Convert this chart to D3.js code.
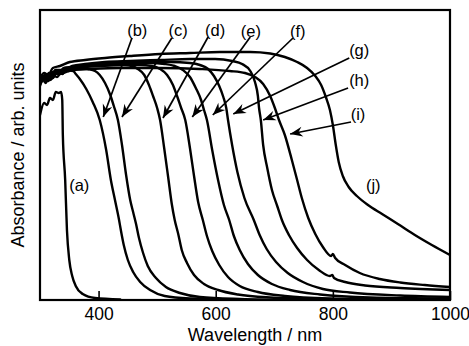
<!DOCTYPE html>
<html><head><meta charset="utf-8">
<script src="https://cdn.jsdelivr.net/npm/d3@7"></script>
<style>body{margin:0;background:#fff}svg{display:block}</style>
</head><body>
<svg id="chart" width="469" height="346"></svg>
<script>
// ---- data (wavelength nm, absorbance arb. units) ----
const xTicks = [400, 600, 800, 1000];
const xTickLabels = ["400", "600", "800", "1000"];
const xTitle = "Wavelength / nm";
const yTitle = "Absorbance / arb. units";
const seriesLabels = ["(a)","(b)","(c)","(d)","(e)","(f)","(g)","(h)","(i)","(j)"];

const curveA = [[300,1.85],[307,1.97],[312,1.95],[317,2.02],[322,2.00],[327,2.08],[332,2.07],[336,2.08],[338,2.00],[339,1.65],[343,1.20],[346,0.70],[350,0.40],[355,0.24],[361,0.14],[373,0.06],[394,0.02],[437,0.005]];
const curveB = [[300,2.18],[305,2.24],[310,2.21],[315,2.27],[320,2.25],[327,2.30],[334,2.28],[341,2.32],[348,2.29],[355,2.30],[361,2.26],[368,2.21],[379,2.11],[390,1.98],[402,1.80],[413,1.50],[421,1.20],[428,1.00],[435,0.80],[438,0.70],[443,0.55],[450,0.40],[459,0.28],[471,0.18],[488,0.10],[513,0.04],[556,0.015],[624,0.005]];
const curveC = [[300,2.14],[305,2.20],[310,2.17],[315,2.24],[322,2.22],[329,2.28],[338,2.26],[346,2.31],[355,2.29],[368,2.32],[382,2.31],[394,2.29],[402,2.25],[411,2.17],[420,2.05],[426,1.94],[433,1.80],[440,1.55],[447,1.25],[454,1.00],[459,0.88],[464,0.76],[469,0.62],[476,0.47],[484,0.34],[498,0.22],[515,0.13],[539,0.07],[573,0.03],[641,0.01],[744,0.00]];
const curveD = [[300,2.20],[307,2.23],[314,2.26],[320,2.24],[327,2.29],[336,2.28],[344,2.32],[355,2.31],[368,2.34],[394,2.34],[420,2.35],[445,2.35],[457,2.34],[467,2.31],[478,2.25],[486,2.15],[493,2.04],[500,1.92],[505,1.80],[512,1.52],[519,1.22],[525,0.96],[530,0.80],[536,0.66],[542,0.50],[551,0.37],[563,0.25],[580,0.16],[604,0.10],[638,0.055],[693,0.025],[778,0.01],[915,0.003]];
const curveE = [[300,2.16],[307,2.21],[314,2.19],[320,2.25],[329,2.23],[338,2.29],[348,2.30],[360,2.32],[377,2.33],[402,2.34],[437,2.35],[471,2.35],[491,2.34],[505,2.31],[517,2.25],[527,2.15],[534,2.04],[541,1.92],[548,1.80],[556,1.52],[563,1.24],[570,0.98],[578,0.80],[585,0.64],[594,0.49],[606,0.35],[621,0.23],[641,0.14],[672,0.08],[718,0.04],[795,0.015],[915,0.005]];
const curveF = [[300,2.20],[307,2.24],[314,2.22],[322,2.28],[331,2.27],[341,2.32],[355,2.33],[377,2.35],[402,2.36],[445,2.37],[488,2.37],[513,2.36],[530,2.34],[544,2.30],[556,2.23],[566,2.12],[575,2.00],[580,1.90],[585,1.80],[594,1.50],[604,1.20],[614,0.95],[623,0.80],[631,0.64],[641,0.50],[655,0.36],[672,0.25],[696,0.16],[727,0.10],[778,0.055],[863,0.025],[1000,0.015]];
const curveG = [[300,2.17],[307,2.22],[315,2.20],[324,2.27],[334,2.26],[344,2.31],[360,2.33],[385,2.35],[420,2.37],[471,2.38],[522,2.38],[556,2.37],[573,2.35],[587,2.31],[597,2.24],[606,2.14],[613,2.03],[618,1.92],[621,1.80],[628,1.55],[637,1.28],[649,1.02],[665,0.80],[675,0.65],[687,0.51],[703,0.38],[723,0.27],[749,0.18],[783,0.11],[829,0.075],[915,0.045],[1000,0.03]];
const curveH = [[300,2.20],[309,2.25],[317,2.23],[327,2.30],[339,2.30],[355,2.34],[377,2.36],[411,2.38],[454,2.39],[505,2.40],[556,2.41],[599,2.41],[628,2.39],[645,2.36],[659,2.29],[667,2.18],[672,2.04],[674,1.92],[677,1.80],[681,1.55],[688,1.32],[696,1.10],[705,0.94],[713,0.80],[725,0.65],[739,0.52],[756,0.40],[776,0.30],[795,0.24],[799,0.25],[802,0.22],[821,0.18],[855,0.145],[915,0.12],[1000,0.10]];
const curveI = [[300,2.16],[309,2.22],[317,2.20],[327,2.26],[339,2.27],[355,2.30],[385,2.31],[437,2.32],[505,2.32],[573,2.31],[624,2.29],[650,2.27],[667,2.23],[681,2.16],[693,2.04],[701,1.92],[708,1.80],[718,1.65],[730,1.40],[739,1.20],[747,1.02],[758,0.82],[770,0.66],[783,0.53],[797,0.44],[800,0.46],[804,0.42],[821,0.35],[846,0.27],[880,0.21],[915,0.175],[957,0.15],[1000,0.13]];
const curveJ = [[300,2.22],[307,2.27],[314,2.25],[322,2.32],[334,2.34],[351,2.38],[377,2.40],[411,2.42],[454,2.44],[505,2.46],[556,2.47],[607,2.48],[659,2.48],[693,2.465],[718,2.43],[739,2.38],[756,2.32],[770,2.24],[780,2.15],[788,2.03],[795,1.90],[800,1.75],[805,1.55],[810,1.38],[817,1.24],[827,1.13],[841,1.04],[860,0.95],[884,0.86],[911,0.76],[940,0.65],[969,0.55],[1000,0.45]];
const curves = [curveA, curveB, curveC, curveD, curveE, curveF, curveG, curveH, curveI, curveJ];

// label anchor positions (wavelength, absorbance)
const labelX = [367, 466, 536, 599, 660, 740, 845, 845, 843, 869];
const labelY = [1.15, 2.70, 2.70, 2.70, 2.69, 2.69, 2.50, 2.20, 1.86, 1.15];
// arrows: from label to curve (null for none)
const arrowFrom = [null,[457,2.62],[525,2.62],[587,2.63],[659,2.63],[732,2.62],[828,2.42],[826,2.12],[831,1.78],null];
const arrowTo   = [null,[408,1.83],[440,1.83],[510,1.82],[560,1.83],[595,1.85],[630,1.86],[681,1.80],[727,1.66],null];

// ---- drawing ----
const svg = d3.select("#chart");
const W = 469, H = 346;
const mLeft = 40, mRight = 450, mTop = 10, mBottom = 300;
const FONT = "'Liberation Sans', Arial, Helvetica, sans-serif";

const x = d3.scaleLinear().domain([300, 1000]).range([mLeft, mRight]);
const y = d3.scaleLinear().domain([0, 2.9]).range([mBottom, mTop]);

svg.append("rect").attr("width", W).attr("height", H).attr("fill", "#fff");

const defs = svg.append("defs");
defs.append("clipPath").attr("id", "clip")
  .append("rect").attr("x", mLeft).attr("y", mTop).attr("width", mRight - mLeft).attr("height", mBottom - mTop);

const marker = defs.append("marker")
  .attr("id", "ah").attr("viewBox", "-13 -7 14 14")
  .attr("refX", 0).attr("refY", 0)
  .attr("markerWidth", 14).attr("markerHeight", 14)
  .attr("markerUnits", "userSpaceOnUse").attr("orient", "auto");
marker.append("path").attr("d", "M0,0 L-12.5,-5 L-8.5,0 L-12.5,5 Z").attr("fill", "#000");

const line = d3.line().x(d => x(d[0])).y(d => y(d[1])).curve(d3.curveMonotoneX);

svg.append("g").attr("clip-path", "url(#clip)")
  .selectAll("path").data(curves).join("path")
  .attr("d", line).attr("fill", "none").attr("stroke", "#000")
  .attr("stroke-width", 2.4).attr("stroke-linejoin", "round").attr("stroke-linecap", "round");

// arrows
const arrowData = arrowFrom.map((f, i) => f ? {f, t: arrowTo[i]} : null).filter(d => d);
svg.append("g").selectAll("line").data(arrowData).join("line")
  .attr("x1", d => x(d.f[0])).attr("y1", d => y(d.f[1]))
  .attr("x2", d => x(d.t[0])).attr("y2", d => y(d.t[1]))
  .attr("stroke", "#000").attr("stroke-width", 1.7)
  .attr("marker-end", "url(#ah)");

// labels
svg.append("g").selectAll("text").data(seriesLabels).join("text")
  .attr("x", (d, i) => x(labelX[i])).attr("y", (d, i) => y(labelY[i]))
  .attr("dy", "0.35em").attr("text-anchor", "middle")
  .attr("font-family", FONT).attr("font-size", 16.5).attr("fill", "#000")
  .text(d => d);

// frame
svg.append("rect").attr("x", mLeft).attr("y", mTop).attr("width", mRight - mLeft).attr("height", mBottom - mTop)
  .attr("fill", "none").attr("stroke", "#000").attr("stroke-width", 2.2);

// x axis
const ax = svg.append("g").attr("transform", `translate(0,${mBottom})`)
  .call(d3.axisBottom(x).tickValues(xTicks).tickFormat((d, i) => xTickLabels[i])
    .tickSizeInner(-9).tickSizeOuter(0).tickPadding(7.5));
ax.select(".domain").remove();
ax.selectAll(".tick line").attr("stroke", "#000").attr("stroke-width", 1.6);
ax.selectAll(".tick text").attr("font-family", FONT).attr("font-size", 17.5).attr("fill", "#000");

svg.append("text").attr("x", 255).attr("y", 341).attr("text-anchor", "middle")
  .attr("font-family", FONT).attr("font-size", 18).attr("fill", "#000").text(xTitle);

svg.append("text").attr("transform", "translate(24,155) rotate(-90)").attr("text-anchor", "middle")
  .attr("font-family", FONT).attr("font-size", 18).attr("fill", "#000").text(yTitle);
</script>
</body></html>
